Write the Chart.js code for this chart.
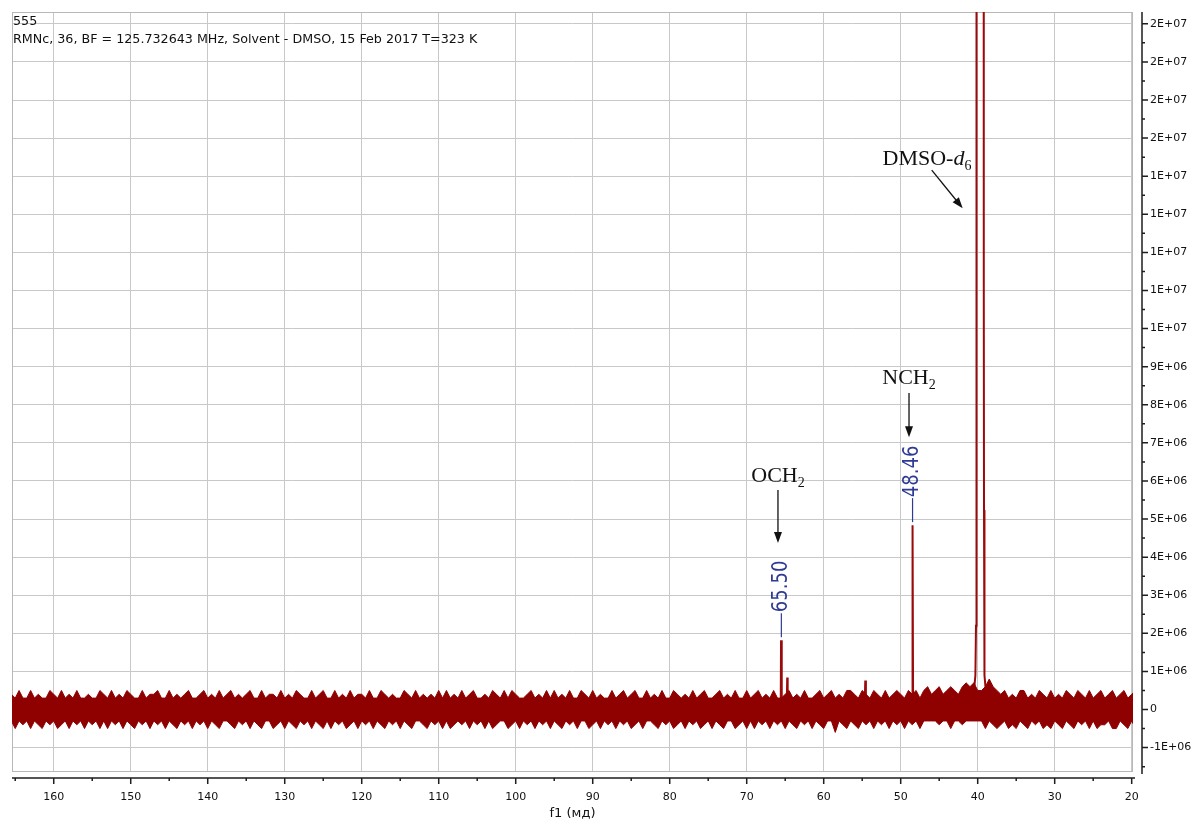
<!DOCTYPE html>
<html>
<head>
<meta charset="utf-8">
<script src="https://cdn.jsdelivr.net/npm/chart.js@4.4.1/dist/chart.umd.min.js"></script>
<style>
  html, body { margin: 0; padding: 0; background: #fff; }
  #spectrum { display: block; }
</style>
</head>
<body>
<canvas id="spectrum" width="1197" height="821"></canvas>
<script>
// baseline noise band, read every 0.5 ppm from 165.5 down to 19.5 ppm (units of 1E+05)
var noiseStart = 165.5;
var noiseStep = 0.5;
var noiseTop = [
	4,3,5,3,3,5,3,4,3,3,5,4,3,5,3,4,3,5,3,3,
	4,3,3,5,4,3,5,3,4,3,5,4,3,3,5,3,4,4,5,3,
	3,5,3,4,3,4,5,3,3,4,5,3,4,3,5,3,4,5,3,4,
	3,4,5,3,3,5,3,4,4,3,5,3,4,3,5,4,3,3,5,3,
	4,5,3,3,5,3,4,3,5,3,4,4,3,5,3,3,5,4,3,4,
	3,3,5,4,3,5,3,4,3,4,3,5,3,5,3,4,3,5,3,4,
	5,3,3,4,3,5,4,3,5,3,5,4,3,3,4,5,3,4,3,5,
	3,5,3,4,3,5,3,3,5,4,3,5,3,4,3,3,5,3,4,5,
	3,4,5,3,3,5,3,4,3,5,3,3,5,4,3,4,3,5,3,4,
	5,3,3,4,5,3,4,3,5,3,3,5,3,4,5,3,4,3,5,3,
	3,4,5,3,4,3,5,3,3,4,5,3,4,5,3,4,3,5,5,4,
	3,5,4,3,5,4,3,5,3,4,5,4,3,5,4,5,3,5,6,4,
	5,6,4,5,6,5,4,6,7,6,7,5,5,6,8,6,5,4,5,3,
	4,3,5,5,3,4,3,5,4,3,5,3,4,3,5,4,3,5,4,3,
	5,3,4,5,3,4,5,3,4,5,3,4,5
];
var noiseBottom = [
	-3,-5,-3,-4,-3,-5,-3,-4,-5,-3,-4,-3,-5,-4,-3,-5,-3,-4,-3,-5,
	-3,-4,-3,-5,-3,-5,-3,-4,-3,-5,-3,-4,-5,-3,-4,-3,-5,-3,-4,-3,
	-5,-3,-4,-5,-3,-4,-3,-5,-3,-4,-3,-5,-3,-4,-5,-3,-3,-4,-5,-3,
	-4,-3,-5,-3,-4,-5,-3,-3,-5,-4,-3,-5,-3,-4,-5,-3,-4,-3,-5,-3,
	-4,-5,-3,-5,-3,-4,-3,-5,-4,-3,-5,-3,-4,-3,-5,-3,-4,-5,-3,-4,
	-3,-5,-3,-4,-5,-3,-3,-4,-5,-3,-4,-3,-5,-3,-5,-4,-3,-4,-3,-5,
	-3,-4,-3,-5,-3,-5,-4,-3,-3,-5,-4,-3,-5,-3,-4,-3,-5,-3,-4,-3,
	-5,-3,-4,-5,-3,-4,-3,-5,-3,-3,-5,-4,-3,-5,-3,-4,-3,-5,-3,-4,
	-3,-5,-4,-3,-5,-3,-3,-4,-5,-3,-4,-3,-5,-4,-3,-5,-3,-4,-3,-5,
	-4,-3,-5,-3,-4,-5,-3,-3,-5,-4,-3,-5,-3,-5,-3,-4,-3,-5,-3,-4,
	-3,-5,-3,-4,-5,-3,-4,-3,-5,-3,-4,-5,-3,-3,-6,-3,-4,-5,-3,-4,
	-5,-3,-4,-3,-5,-3,-4,-3,-5,-3,-4,-3,-5,-3,-4,-3,-5,-3,-3,-3,
	-3,-4,-3,-3,-5,-3,-3,-4,-3,-3,-3,-3,-3,-5,-3,-4,-5,-4,-3,-5,
	-4,-5,-3,-4,-5,-3,-4,-3,-5,-4,-5,-3,-4,-5,-3,-4,-5,-3,-4,-3,
	-5,-3,-5,-4,-4,-3,-5,-5,-3,-4,-5,-3,-5
];

// signals (ppm, intensity in units of 1E+06); DMSO-d6 runs off the top
var peakPpm    = [66.2, 65.58, 65.54, 65.47, 65.43, 64.8, 64.74, 64.68, 54.68, 54.6, 54.52, 48.53, 48.47, 48.45, 48.39, 40.7, 40.45, 40.3, 40.22, 40.17, 40.14, 39.24, 39.22, 39.2, 39.18, 39.12, 38.95, 38.2];
var peakHeight = [0, 0.15, 1.82, 1.8, 0.15, 0.1, 0.84, 0.1, 0.1, 0.76, 0.1, 0.1, 4.84, 4.84, 0.1, 0.3, 0.55, 0.9, 2.2, 2.9, 40, 40, 12.5, 11.2, 5.24, 0.9, 0.5, 0];

var xTicks = [160, 150, 140, 130, 120, 110, 100, 90, 80, 70, 60, 50, 40, 30, 20];
var yTicks = [-1e6, 0, 1e6, 2e6, 3e6, 4e6, 5e6, 6e6, 7e6, 8e6, 9e6, 10e6, 11e6, 12e6, 13e6, 14e6, 15e6, 16e6, 17e6, 18e6];

var labelPpm  = [65.50, 48.46];
var labelText = ["65.50", "48.46"];

var headerLines = ["555", "RMNc, 36, BF = 125.732643 MHz, Solvent - DMSO, 15 Feb 2017 T=323 K"];
var axisTitle = "f1 (мд)";

// hand drawn assignments: text anchor and arrow in data coordinates
var notes = [
	{ parts: [["OCH", ""], ["2", "sub"]], at: [65.94, 5.97e6], from: [65.94, 5.76e6], to: [65.94, 4.37e6] },
	{ parts: [["NCH", ""], ["2", "sub"]], at: [48.92, 8.54e6], from: [48.92, 8.31e6], to: [48.92, 7.15e6] },
	{ parts: [["DMSO-", ""], ["d", "italic"], ["6", "sub"]], at: [46.59, 14.29e6], from: [45.97, 14.16e6], to: [41.95, 13.16e6] }
];

var lowerBand = [], upperBand = [], peakLine = [];
for (var i = 0; i < noiseTop.length; i++) {
	var ppm = noiseStart - i * noiseStep;
	upperBand.push({ x: ppm, y: noiseTop[i] * 1e5 });
	lowerBand.push({ x: ppm, y: noiseBottom[i] * 1e5 });
}
for (var k = 0; k < peakPpm.length; k++) {
	peakLine.push({ x: peakPpm[k], y: peakHeight[k] * 1e6 });
}

function sci(v) {
	if (v === 0) return "0";
	var m = v.toExponential(0).split("e");
	var e = parseInt(m[1], 10);
	var a = Math.abs(e);
	return m[0] + "E" + (e < 0 ? "-" : "+") + (a < 10 ? "0" + a : a);
}

function topOfPeak(ppm) {
	var best = 0;
	for (var k = 0; k < peakPpm.length; k++) {
		if (Math.abs(peakPpm[k] - ppm) < 0.1 && peakHeight[k] > best) best = peakHeight[k];
	}
	return best * 1e6;
}

var frame = {
	id: "frame",
	beforeDatasetsDraw: function(chart) {
		var ctx = chart.ctx, a = chart.chartArea;
		ctx.save();
		ctx.strokeStyle = "#b8b8b8";
		ctx.lineWidth = 1;
		ctx.strokeRect(a.left + 0.5, a.top + 0.5, a.right - a.left - 1, a.bottom - a.top - 1);
		ctx.restore();
	},
	afterDraw: function(chart) {
		var ctx = chart.ctx, a = chart.chartArea;
		var xs = chart.scales.x, ys = chart.scales.y;
		ctx.save();

		// axes with major and minor ticks
		ctx.strokeStyle = "#1e1e1e";
		ctx.lineWidth = 1.5;
		var ax = a.bottom + 6, ay = a.right + 9;
		ctx.beginPath();
		ctx.moveTo(a.left, ax); ctx.lineTo(a.right + 2, ax);
		ctx.moveTo(ay, a.top); ctx.lineTo(ay, a.bottom + 2);
		for (var v = 20; v <= 165; v += 5) {
			var px = xs.getPixelForValue(v);
			if (px < a.left || px > a.right + 1) continue;
			ctx.moveTo(px, ax); ctx.lineTo(px, ax + (v % 10 === 0 ? 6 : 3));
		}
		for (var w = -1.5e6; w <= 18e6; w += 0.5e6) {
			var py = ys.getPixelForValue(w);
			if (py < a.top || py > a.bottom) continue;
			ctx.moveTo(ay, py); ctx.lineTo(ay + (w % 1e6 === 0 ? 6 : 3), py);
		}
		ctx.stroke();

		// header
		ctx.fillStyle = "#111";
		ctx.font = "12.7px 'DejaVu Sans'";
		ctx.textAlign = "left";
		ctx.textBaseline = "middle";
		ctx.fillText(headerLines[0], a.left + 1, 22);
		ctx.fillText(headerLines[1], a.left + 1, 40);

		// peak picking labels
		ctx.strokeStyle = "#2f3a94";
		ctx.fillStyle = "#2f3a94";
		ctx.lineWidth = 1.2;
		for (var j = 0; j < labelPpm.length; j++) {
			var lx = xs.getPixelForValue(labelPpm[j]);
			var ly = ys.getPixelForValue(topOfPeak(labelPpm[j]));
			ctx.beginPath();
			ctx.moveTo(lx, ly - 3); ctx.lineTo(lx, ly - 27);
			ctx.stroke();
			ctx.save();
			ctx.translate(lx, ly - 28);
			ctx.rotate(-Math.PI / 2);
			ctx.scale(1, 1.15);
			ctx.font = "18px 'DejaVu Sans'";
			ctx.textAlign = "left";
			ctx.textBaseline = "middle";
			ctx.fillText(labelText[j], 0, 0);
			ctx.restore();
		}

		// assignments with arrows
		ctx.fillStyle = "#111";
		ctx.strokeStyle = "#111";
		ctx.textBaseline = "alphabetic";
		ctx.textAlign = "left";
		notes.forEach(function(n) {
			var fonts = { "": "22px 'Liberation Serif'", italic: "italic 22px 'Liberation Serif'", sub: "14px 'Liberation Serif'" };
			var total = 0;
			n.parts.forEach(function(p) { ctx.font = fonts[p[1]]; total += ctx.measureText(p[0]).width; });
			var tx = xs.getPixelForValue(n.at[0]) - total / 2;
			var tyb = ys.getPixelForValue(n.at[1]);
			n.parts.forEach(function(p) {
				ctx.font = fonts[p[1]];
				ctx.fillText(p[0], tx, tyb + (p[1] === "sub" ? 5 : 0));
				tx += ctx.measureText(p[0]).width;
			});
			var x1 = xs.getPixelForValue(n.from[0]), y1 = ys.getPixelForValue(n.from[1]);
			var x2 = xs.getPixelForValue(n.to[0]), y2 = ys.getPixelForValue(n.to[1]);
			var ang = Math.atan2(y2 - y1, x2 - x1);
			ctx.lineWidth = 1.3;
			ctx.beginPath();
			ctx.moveTo(x1, y1);
			ctx.lineTo(x2 - 8 * Math.cos(ang), y2 - 8 * Math.sin(ang));
			ctx.stroke();
			ctx.beginPath();
			ctx.moveTo(x2, y2);
			ctx.lineTo(x2 - 11 * Math.cos(ang) + 4 * Math.sin(ang), y2 - 11 * Math.sin(ang) - 4 * Math.cos(ang));
			ctx.lineTo(x2 - 11 * Math.cos(ang) - 4 * Math.sin(ang), y2 - 11 * Math.sin(ang) + 4 * Math.cos(ang));
			ctx.closePath();
			ctx.fill();
		});

		ctx.restore();
	}
};

Chart.defaults.color = "#111";
Chart.defaults.font.family = "'DejaVu Sans'";

new Chart(document.getElementById("spectrum"), {
	type: "line",
	data: {
		datasets: [
			{
				label: "noise low",
				data: lowerBand,
				borderColor: "#8f0000",
				borderWidth: 1,
				fill: false
			},
			{
				label: "noise high",
				data: upperBand,
				borderColor: "#8f0000",
				backgroundColor: "#8f0000",
				borderWidth: 1,
				fill: "-1"
			},
			{
				label: "signals",
				data: peakLine,
				borderColor: "#9a0a0a",
				borderWidth: 2,
				fill: false
			}
		]
	},
	options: {
		responsive: false,
		animation: false,
		layout: { padding: { left: 12, top: 12, right: 0, bottom: 0 } },
		elements: { point: { radius: 0 }, line: { tension: 0 } },
		plugins: { legend: { display: false }, tooltip: { enabled: false } },
		scales: {
			x: {
				type: "linear",
				reverse: true,
				min: 19.83,
				max: 165.42,
				afterFit: function(s) { s.height = 49; s.paddingLeft = 0; s.paddingRight = 0; },
				afterBuildTicks: function(s) { s.ticks = xTicks.map(function(v) { return { value: v }; }); },
				border: { display: false },
				grid: { color: "#c8c8c8", drawTicks: false },
				ticks: {
					autoSkip: false,
					maxRotation: 0,
					padding: 19,
					font: { size: 11 }
				},
				title: { display: true, text: axisTitle, font: { size: 13 }, padding: { top: 0, bottom: 0 } }
			},
			y: {
				type: "linear",
				position: "right",
				min: -1.64e6,
				max: 18.31e6,
				afterFit: function(s) { s.width = 64; s.paddingTop = 0; s.paddingBottom = 0; },
				afterBuildTicks: function(s) { s.ticks = yTicks.map(function(v) { return { value: v }; }); },
				border: { display: false },
				grid: { color: "#c8c8c8", drawTicks: false },
				ticks: {
					autoSkip: false,
					padding: 17,
					font: { size: 11 },
					callback: function(v) { return sci(v); }
				}
			}
		}
	},
	plugins: [frame]
});
</script>
</body>
</html>
